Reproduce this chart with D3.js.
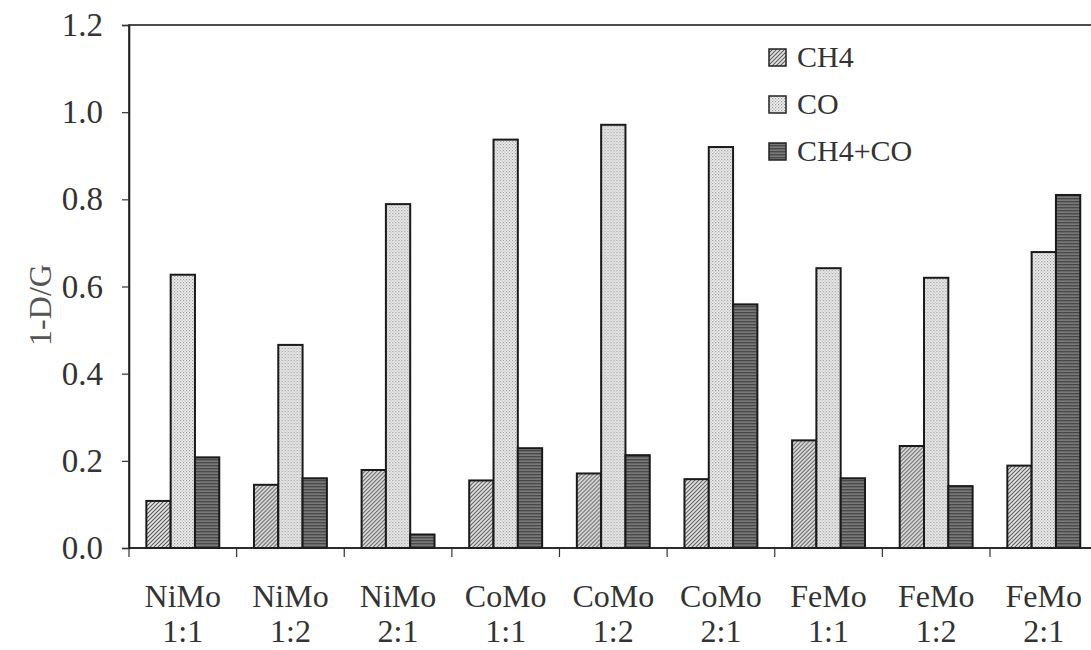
<!DOCTYPE html>
<html>
<head>
<meta charset="utf-8">
<script src="https://cdn.jsdelivr.net/npm/d3@7"></script>
<style>
  html, body { margin: 0; padding: 0; background: #fff; }
  svg { display: block; font-family: "Liberation Serif", "Times New Roman", serif; }
</style>
</head>
<body>
<svg id="chart" width="1091" height="650"></svg>
<script>
// Catalyst samples (metal pair and ratio)
const metals = ["NiMo", "NiMo", "NiMo", "CoMo", "CoMo", "CoMo", "FeMo", "FeMo", "FeMo"];
const ratios = ["1:1", "1:2", "2:1", "1:1", "1:2", "2:1", "1:1", "1:2", "2:1"];
const seriesNames = ["CH4", "CO", "CH4+CO"];

// 1-D/G for each feed
const ch4Values   = [0.108, 0.145, 0.179, 0.155, 0.171, 0.158, 0.247, 0.234, 0.189];
const coValues    = [0.627, 0.466, 0.789, 0.937, 0.971, 0.920, 0.642, 0.620, 0.679];
const mixValues   = [0.208, 0.160, 0.031, 0.229, 0.213, 0.559, 0.160, 0.142, 0.810];

const yTicks = [0, 0.2, 0.4, 0.6, 0.8, 1.0, 1.2];

const categories = metals.map((m, i) => m + " " + ratios[i]);
const rows = categories.map((c, i) => ({
  cat: c,
  values: [
    { key: "CH4", v: ch4Values[i] },
    { key: "CO", v: coValues[i] },
    { key: "CH4+CO", v: mixValues[i] }
  ]
}));

const svg = d3.select("#chart");
const plot = { left: 129, top: 25, right: 1097.6, bottom: 548 };

const x0 = d3.scaleBand().domain(categories).range([plot.left, plot.right]).padding(0);
const x1 = d3.scaleBand().domain(seriesNames).range([0, x0.bandwidth()])
  .paddingInner(0).paddingOuter(0.714);
const y = d3.scaleLinear().domain([0, 1.2]).range([plot.bottom, plot.top]);

// Fill patterns
const defs = svg.append("defs");
const pHatch = defs.append("pattern").attr("id", "pat-ch4")
  .attr("patternUnits", "userSpaceOnUse").attr("width", 4).attr("height", 4);
pHatch.append("rect").attr("width", 4).attr("height", 4).attr("fill", "#e6e6e6");
pHatch.append("path").attr("d", "M-1,1 l2,-2 M0,4 l4,-4 M3,5 l2,-2")
  .attr("stroke", "#5a5a5a").attr("stroke-width", 1.1);

const pDots = defs.append("pattern").attr("id", "pat-co")
  .attr("patternUnits", "userSpaceOnUse").attr("width", 3).attr("height", 3);
pDots.append("rect").attr("width", 3).attr("height", 3).attr("fill", "#efefef");
pDots.append("rect").attr("width", 1.2).attr("height", 1.2).attr("fill", "#9a9a9a");
pDots.append("rect").attr("x", 1.5).attr("y", 1.5).attr("width", 1.2).attr("height", 1.2).attr("fill", "#b0b0b0");

const pLines = defs.append("pattern").attr("id", "pat-mix")
  .attr("patternUnits", "userSpaceOnUse").attr("width", 4).attr("height", 3);
pLines.append("rect").attr("width", 4).attr("height", 3).attr("fill", "#7a7a7a");
pLines.append("rect").attr("width", 4).attr("height", 1.4).attr("fill", "#4a4a4a");

const fills = { "CH4": "url(#pat-ch4)", "CO": "url(#pat-co)", "CH4+CO": "url(#pat-mix)" };

// Plot frame
svg.append("rect")
  .attr("x", plot.left).attr("y", plot.top)
  .attr("width", plot.right - plot.left).attr("height", plot.bottom - plot.top)
  .attr("fill", "none").attr("stroke", "#222").attr("stroke-width", 1.6);

// Bars
const groups = svg.append("g").selectAll("g").data(rows).join("g")
  .attr("transform", d => `translate(${x0(d.cat)},0)`);
groups.selectAll("rect").data(d => d.values).join("rect")
  .attr("x", d => x1(d.key))
  .attr("y", d => y(d.v))
  .attr("width", x1.bandwidth())
  .attr("height", d => y(0) - y(d.v))
  .attr("fill", d => fills[d.key])
  .attr("stroke", "#1a1a1a")
  .attr("stroke-width", 2);

// Y axis
const yAxis = svg.append("g")
  .attr("transform", `translate(${plot.left},0)`)
  .call(d3.axisLeft(y).tickValues(yTicks).tickFormat(d3.format(".1f")).tickSize(7).tickPadding(19));
yAxis.select(".domain").attr("stroke", "#222").attr("stroke-width", 1.6);
yAxis.selectAll(".tick line").attr("stroke", "#333").attr("stroke-width", 1.2);
yAxis.selectAll(".tick text")
  .attr("font-family", "Liberation Serif, serif")
  .attr("font-size", 33).attr("fill", "#333");

// X axis: ticks at category boundaries
const boundaries = categories.map(c => x0(c)).concat([plot.right]);
svg.append("g").selectAll("line").data(boundaries).join("line")
  .attr("x1", d => d).attr("x2", d => d)
  .attr("y1", plot.bottom).attr("y2", plot.bottom + 9)
  .attr("stroke", "#333").attr("stroke-width", 1.2);
svg.append("line")
  .attr("x1", plot.left).attr("x2", plot.right)
  .attr("y1", plot.bottom).attr("y2", plot.bottom)
  .attr("stroke", "#222").attr("stroke-width", 1.6);

const labels = svg.append("g").selectAll("text").data(categories).join("text")
  .attr("text-anchor", "middle")
  .attr("font-size", 32)
  .attr("fill", "#333")
  .attr("transform", d => `translate(${x0(d) + x0.bandwidth() / 2},0)`);
labels.append("tspan").attr("x", 0).attr("y", 607).text((d, i) => metals[i]);
labels.append("tspan").attr("x", 0).attr("y", 642).text((d, i) => ratios[i]);

// Y axis title
svg.append("text")
  .attr("transform", "translate(51,305) rotate(-90)")
  .attr("text-anchor", "middle")
  .attr("font-size", 32)
  .attr("fill", "#555")
  .text("1-D/G");

// Legend
const legend = svg.append("g").attr("transform", "translate(769,57)");
const items = legend.selectAll("g").data(seriesNames).join("g")
  .attr("transform", (d, i) => `translate(0,${i * 47})`);
items.append("rect")
  .attr("x", 0).attr("y", -8).attr("width", 17).attr("height", 17)
  .attr("fill", d => fills[d]).attr("stroke", "#222").attr("stroke-width", 1.5);
items.append("text")
  .attr("x", 28).attr("y", 10)
  .attr("font-size", 30).attr("fill", "#333")
  .text(d => d);
</script>
</body>
</html>
